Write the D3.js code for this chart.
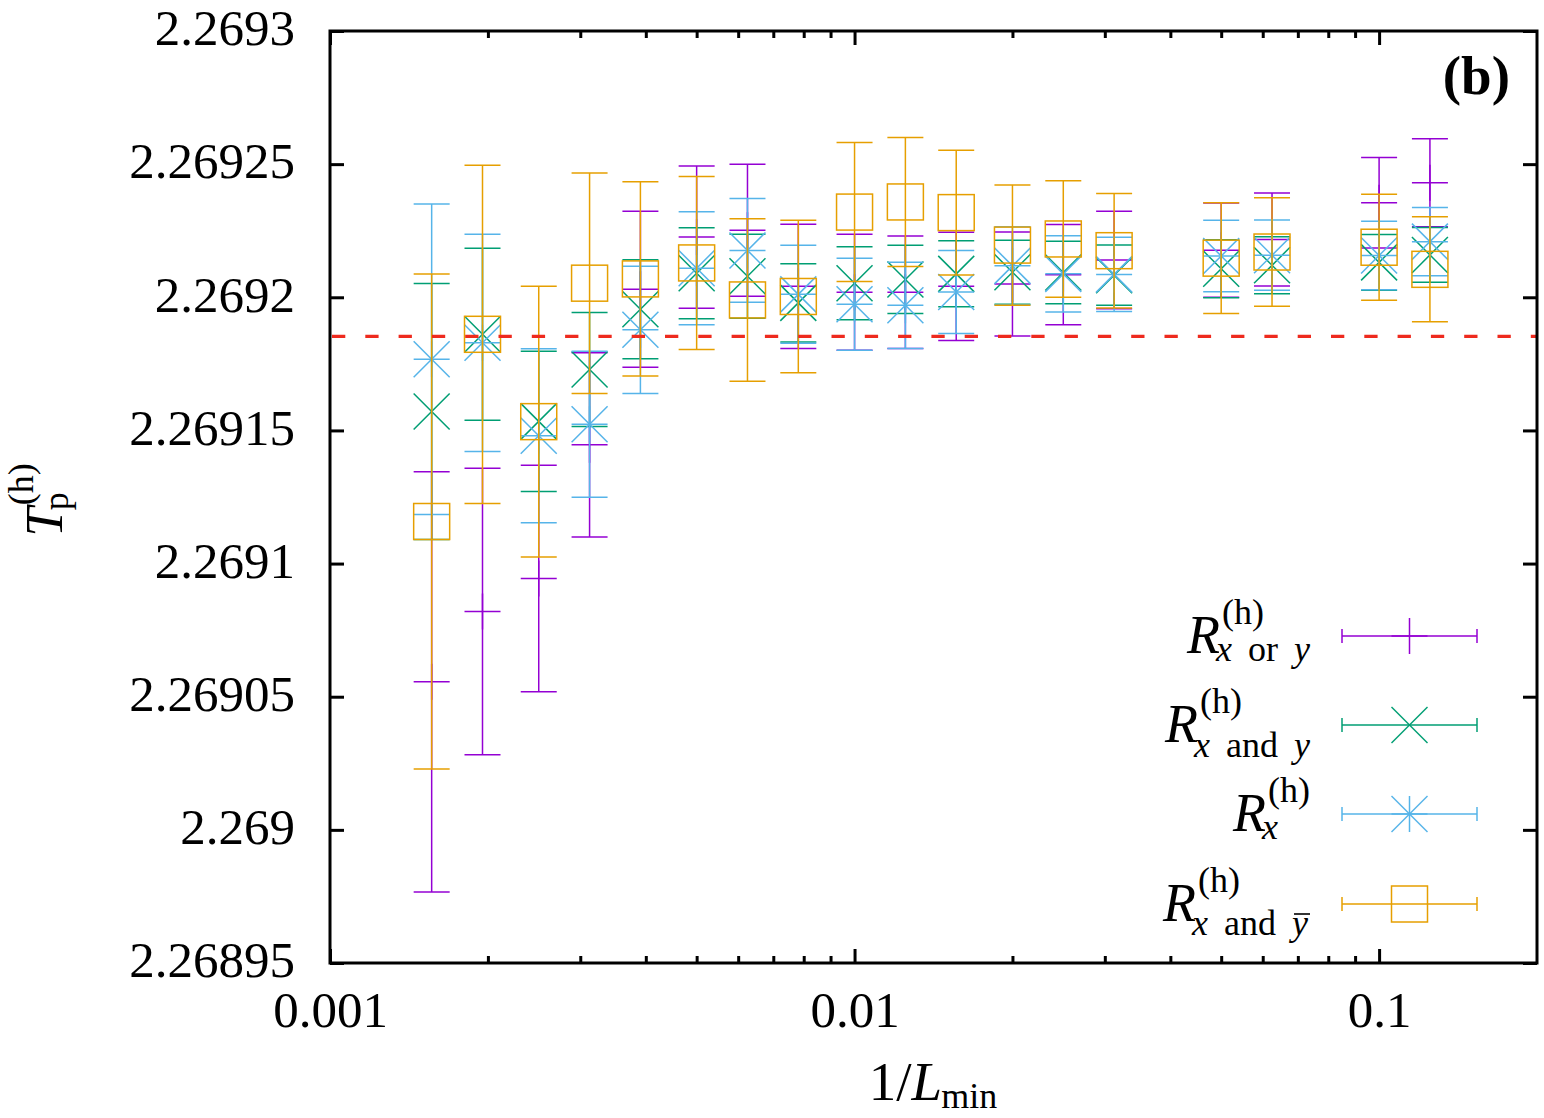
<!DOCTYPE html>
<html>
<head>
<meta charset="utf-8">
<script src="https://cdn.jsdelivr.net/npm/d3@7"></script>
<style>
  body { margin: 0; background: #fff; }
  svg { display: block; }
  text { font-family: "Liberation Serif", "Times New Roman", serif; white-space: pre; }
</style>
</head>
<body>
<svg id="chart"></svg>
<script>
// system sizes L_min, x value is 1/L_min
const Lmin = [640, 512, 400, 320, 256, 200, 160, 128, 100, 80, 64, 50, 40, 32, 20, 16, 10, 8]

// R_x or y (purple, plus)
const orY = [2.2690556, 2.2690820, 2.2690944, 2.2691446, 2.2692030, 2.2692226, 2.2692252, 2.2692041, 2.2692019,
             2.2692019, 2.2692041, 2.2692050, 2.2692085, 2.2692140, 2.2692177, 2.2692217, 2.2692355, 2.2692430]
const orErr = [7.89e-5, 5.38e-5, 4.25e-5, 3.46e-5, 2.93e-5, 2.67e-5, 2.48e-5, 2.33e-5, 2.18e-5,
               2.11e-5, 2.03e-5, 1.95e-5, 1.88e-5, 1.83e-5, 1.77e-5, 1.75e-5, 1.70e-5, 1.65e-5]

// R_x and y (green, cross)
const andY = [2.2691571, 2.2691861, 2.2691534, 2.2691729, 2.2691955, 2.2692090, 2.2692079, 2.2691979, 2.2692053,
              2.2692067, 2.2692088, 2.2692094, 2.2692093, 2.2692083, 2.2692107, 2.2692120, 2.2692131, 2.2692159]
const andErr = [4.81e-5, 3.23e-5, 2.63e-5, 2.14e-5, 1.86e-5, 1.71e-5, 1.58e-5, 1.47e-5, 1.37e-5,
                1.28e-5, 1.24e-5, 1.20e-5, 1.17e-5, 1.13e-5, 1.09e-5, 1.07e-5, 1.05e-5, 1.03e-5]

// R_x (light blue, star)
const xY = [2.2691767, 2.2691829, 2.2691480, 2.2691523, 2.2691878, 2.2692109, 2.2692176, 2.2692011, 2.2691974,
            2.2691970, 2.2692020, 2.2692118, 2.2692088, 2.2692086, 2.2692155, 2.2692158, 2.2692157, 2.2692209]
const xErr = [5.83e-5, 4.08e-5, 3.27e-5, 2.74e-5, 2.39e-5, 2.12e-5, 1.95e-5, 1.84e-5, 1.73e-5,
              1.62e-5, 1.56e-5, 1.47e-5, 1.43e-5, 1.39e-5, 1.34e-5, 1.32e-5, 1.29e-5, 1.28e-5]

// R_x and ybar (orange, square)
const andBarY = [2.2691158, 2.2691861, 2.2691533, 2.2692053, 2.2692069, 2.2692129, 2.2691990, 2.2692003, 2.2692320,
                 2.2692358, 2.2692318, 2.2692196, 2.2692219, 2.2692175, 2.2692147, 2.2692170, 2.2692188, 2.2692105]
const andBarErr = [9.29e-5, 6.35e-5, 5.08e-5, 4.14e-5, 3.65e-5, 3.25e-5, 3.05e-5, 2.86e-5, 2.61e-5,
                   2.42e-5, 2.34e-5, 2.26e-5, 2.19e-5, 2.15e-5, 2.08e-5, 2.04e-5, 1.99e-5, 1.97e-5]

// exact critical temperature (red dashed line)
const Tc = 2.2691853

const yTicks = [2.26895, 2.269, 2.26905, 2.2691, 2.26915, 2.2692, 2.26925, 2.2693]
const yTickLabels = ['2.26895', '2.269', '2.26905', '2.2691', '2.26915', '2.2692', '2.26925', '2.2693']
const xTicks = [0.001, 0.01, 0.1]
const xTickLabels = ['0.001', '0.01', '0.1']

/**********************************************
 * layout
 **********************************************/
const W = 1544
const H = 1118
const pLeft = 330, pRight = 1537, pTop = 31, pBottom = 963
const FS = 51       // main font size
const SFS = 36      // script font size
const MS = 18       // half marker size

const svg = d3.select('#chart').attr('width', W).attr('height', H)

const x = d3.scaleLog().domain([0.001, 0.2]).range([pLeft, pRight])
const y = d3.scaleLinear().domain([2.26895, 2.2693]).range([pBottom, pTop])

const series = [
    { vals: orY, errs: orErr, color: '#9400d3', marker: 'plus' },
    { vals: andY, errs: andErr, color: '#009e73', marker: 'cross' },
    { vals: xY, errs: xErr, color: '#56b4e9', marker: 'star' },
    { vals: andBarY, errs: andBarErr, color: '#e69f00', marker: 'square' },
]

function drawMarker(g, type, cx, cy, color) {
    const seg = (x1, y1, x2, y2) => g.append('line')
        .attr('x1', x1).attr('y1', y1).attr('x2', x2).attr('y2', y2)
        .attr('stroke', color).attr('stroke-width', 1.5)
    if (type === 'plus' || type === 'star') {
        seg(cx - MS, cy, cx + MS, cy)
        seg(cx, cy - MS, cx, cy + MS)
    }
    if (type === 'cross' || type === 'star') {
        seg(cx - MS, cy - MS, cx + MS, cy + MS)
        seg(cx - MS, cy + MS, cx + MS, cy - MS)
    }
    if (type === 'square') {
        g.append('rect').attr('x', cx - MS).attr('y', cy - MS)
            .attr('width', 2 * MS).attr('height', 2 * MS)
            .attr('fill', 'none').attr('stroke', color).attr('stroke-width', 1.5)
    }
}

// data with error bars
series.forEach(s => {
    const g = svg.append('g').attr('stroke', s.color).attr('stroke-width', 1.5).attr('fill', 'none')
    s.vals.forEach((v, i) => {
        const px = x(1 / Lmin[i])
        const lo = y(v - s.errs[i]), hi = y(v + s.errs[i])
        g.append('line').attr('x1', px).attr('x2', px).attr('y1', lo).attr('y2', hi)
        g.append('line').attr('x1', px - MS).attr('x2', px + MS).attr('y1', lo).attr('y2', lo)
        g.append('line').attr('x1', px - MS).attr('x2', px + MS).attr('y1', hi).attr('y2', hi)
        drawMarker(g, s.marker, px, y(v), s.color)
    })
})

// Tc line
svg.append('line')
    .attr('x1', x(0.001) + 2).attr('x2', x(0.2))
    .attr('y1', y(Tc)).attr('y2', y(Tc))
    .attr('stroke', '#ee2a1e').attr('stroke-width', 3.3)
    .attr('stroke-dasharray', '13.3,20')

/**********************************************
 * axes
 **********************************************/
function styleAxis(g) {
    g.select('.domain').remove()
    g.attr('font-family', '"Liberation Serif", serif').attr('font-size', FS)
    g.selectAll('.tick line').attr('stroke', '#000').attr('stroke-width', 3)
    g.selectAll('.tick text').attr('fill', '#000')
}

const xMinor = x.ticks().filter(d => !xTicks.some(t => Math.abs(t - d) < 1e-9) && d < 0.2 - 1e-9)

svg.append('g').attr('transform', `translate(${pLeft},0)`)
    .call(d3.axisLeft(y).tickValues(yTicks).tickFormat((d, i) => yTickLabels[i]).tickSize(-14).tickPadding(35))
    .call(styleAxis)
    .selectAll('.tick text').attr('dy', '0.27em')

svg.append('g').attr('transform', `translate(${pRight},0)`)
    .call(d3.axisRight(y).tickValues(yTicks).tickFormat('').tickSize(-14))
    .call(styleAxis)

svg.append('g').attr('transform', `translate(0,${pBottom})`)
    .call(d3.axisBottom(x).tickValues(xTicks).tickFormat((d, i) => xTickLabels[i]).tickSize(-14).tickPadding(28))
    .call(styleAxis)

svg.append('g').attr('transform', `translate(0,${pBottom})`)
    .call(d3.axisBottom(x).tickValues(xMinor).tickFormat('').tickSize(-7))
    .call(styleAxis)

svg.append('g').attr('transform', `translate(0,${pTop})`)
    .call(d3.axisTop(x).tickValues(xTicks).tickFormat('').tickSize(-14))
    .call(styleAxis)

svg.append('g').attr('transform', `translate(0,${pTop})`)
    .call(d3.axisTop(x).tickValues(xMinor).tickFormat('').tickSize(-7))
    .call(styleAxis)

svg.append('rect')
    .attr('x', pLeft).attr('y', pTop).attr('width', pRight - pLeft).attr('height', pBottom - pTop)
    .attr('fill', 'none').attr('stroke', '#000').attr('stroke-width', 3)

/**********************************************
 * math-like labels (one text element, tspans placed by hand)
 **********************************************/
// base: [[text, italic]], sup: string, sub: [[text, italic, overbar] | gap number]
function mathLabel(parent, spec) {
    const g = parent.append('g')
    const txt = g.append('text')
    const span = (s, px, py, size, it) => txt.append('tspan')
        .attr('x', px).attr('y', py).attr('font-size', size)
        .attr('font-style', it ? 'italic' : 'normal').text(s)
    let cx = 0
    spec.base.forEach(([s, it]) => {
        cx += span(s, cx, 0, spec.fs || FS, it).node().getComputedTextLength()
    })
    if (spec.sup) span(spec.sup, cx + 2, spec.supDy, SFS, false)
    if (spec.sub) {
        let sx = cx + (spec.subShift || 0)
        spec.sub.forEach(p => {
            if (typeof p === 'number') { sx += p; return }
            const [s, it, bar] = p
            const w = span(s, sx, spec.subDy, SFS, it).node().getComputedTextLength()
            if (bar) {
                g.append('line').attr('x1', sx + 2).attr('x2', sx + w + 2)
                    .attr('y1', spec.subDy - 21).attr('y2', spec.subDy - 21)
                    .attr('stroke', '#000').attr('stroke-width', 1.6)
            }
            sx += w
        })
    }
    return g
}

// y title
const yTitle = svg.append('g').attr('transform', 'translate(62,500) rotate(-90)')
const yt = mathLabel(yTitle, { base: [['T', true]], fs: 53, sup: '(h)', supDy: -29, sub: [['p', false]], subDy: 6, subShift: -3 })
const ybb = yt.node().getBBox()
yt.attr('transform', `translate(${-ybb.x - ybb.width / 2},0)`)

// x title
const xTitle = mathLabel(svg, { base: [['1/', false], ['L', true]], fs: 55, sub: [['min', false]], subDy: 8, subShift: -1 })
const xbb = xTitle.node().getBBox()
xTitle.attr('transform', `translate(${933 - xbb.x - xbb.width / 2},1100)`)

// panel tag
svg.append('text').attr('x', 1510).attr('y', 94).attr('text-anchor', 'end')
    .attr('font-size', 55).attr('font-weight', 'bold').text('(b)')

/**********************************************
 * legend
 **********************************************/
const legendRows = [
    { sub: [['x', true], 16, ['or', false], 16, ['y', true]], subDy: 8 },
    { sub: [['x', true], 16, ['and', false], 16, ['y', true]], subDy: 15 },
    { sub: [['x', true]], subDy: 8 },
    { sub: [['x', true], 16, ['and', false], 16, ['y', true, true]], subDy: 14 },
]
const legendY = [636, 725, 814, 904]

legendRows.forEach((row, i) => {
    const s = series[i]
    const ly = legendY[i]
    const lab = mathLabel(svg, { base: [['R', true]], fs: 54, sup: '(h)', supDy: -29, sub: row.sub, subDy: row.subDy, subShift: -4 })
    const bb = lab.node().getBBox()
    lab.attr('transform', `translate(${1310 - bb.x - bb.width},${ly + 17})`)

    const g = svg.append('g').attr('stroke', s.color).attr('stroke-width', 1.5).attr('fill', 'none')
    g.append('line').attr('x1', 1342).attr('x2', 1477).attr('y1', ly).attr('y2', ly)
    g.append('line').attr('x1', 1342).attr('x2', 1342).attr('y1', ly - 7).attr('y2', ly + 7)
    g.append('line').attr('x1', 1477).attr('x2', 1477).attr('y1', ly - 7).attr('y2', ly + 7)
    drawMarker(g, s.marker, 1409.5, ly, s.color)
})
</script>
</body>
</html>
